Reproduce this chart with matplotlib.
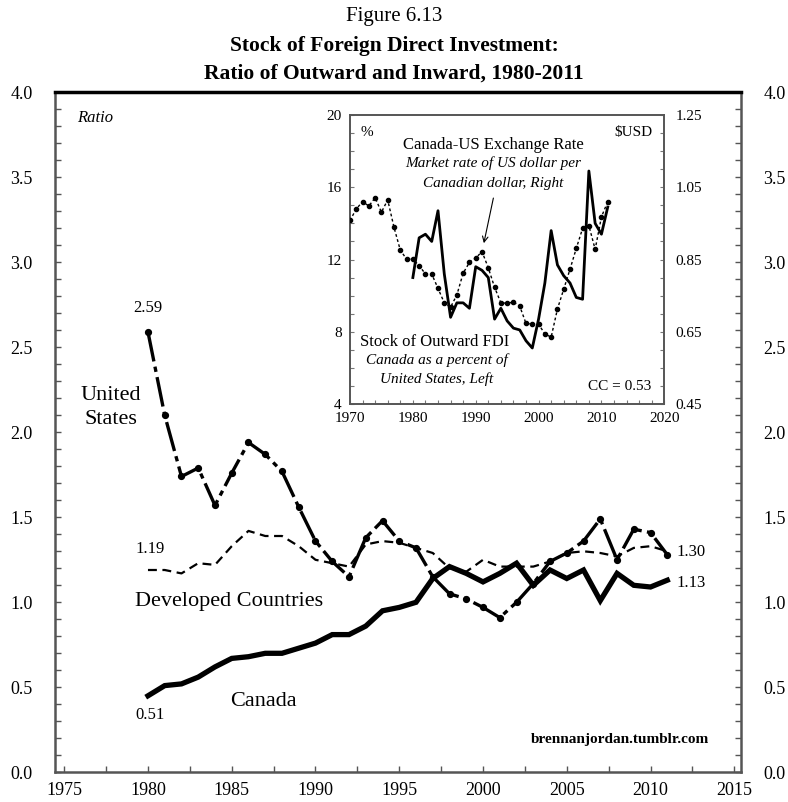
import matplotlib
matplotlib.use("Agg")
import matplotlib.pyplot as plt
from matplotlib.ticker import MultipleLocator, FixedLocator, FormatStrFormatter

plt.rcParams['font.family'] = ['Liberation Serif', 'DejaVu Serif']

# ---------------- data ----------------
years = list(range(1980, 2012))
united_states = [2.59, 2.10, 1.74, 1.79, 1.57, 1.76, 1.94, 1.87, 1.77, 1.56,
                 1.36, 1.24, 1.15, 1.38, 1.48, 1.36, 1.32, 1.15, 1.05, 1.02,
                 0.97, 0.91, 1.00, 1.11, 1.24, 1.29, 1.36, 1.49, 1.25, 1.43,
                 1.41, 1.28]
developed = [1.19, 1.19, 1.17, 1.23, 1.22, 1.33, 1.42, 1.39, 1.39, 1.33,
             1.25, 1.23, 1.21, 1.34, 1.36, 1.35, 1.32, 1.29, 1.20, 1.18,
             1.25, 1.21, 1.21, 1.21, 1.24, 1.29, 1.30, 1.29, 1.27, 1.32,
             1.33, 1.30]
canada = [0.45, 0.51, 0.52, 0.56, 0.62, 0.67, 0.68, 0.70, 0.70, 0.73,
          0.76, 0.81, 0.81, 0.86, 0.95, 0.97, 1.00, 1.14, 1.21, 1.17,
          1.12, 1.17, 1.23, 1.10, 1.19, 1.14, 1.19, 1.01, 1.17, 1.10,
          1.09, 1.13]

fx_years = list(range(1970, 2012))
exchange_rate = [0.958, 0.990, 1.010, 0.998, 1.021, 0.981, 1.015, 0.939, 0.876, 0.851,
                 0.851, 0.833, 0.810, 0.810, 0.770, 0.730, 0.718, 0.752, 0.812, 0.842,
                 0.854, 0.872, 0.827, 0.773, 0.730, 0.729, 0.732, 0.721, 0.673, 0.671,
                 0.671, 0.644, 0.635, 0.713, 0.768, 0.823, 0.881, 0.936, 0.944, 0.878,
                 0.968, 1.010]
fdi_years = list(range(1980, 2012))
outward_fdi = [11.0, 13.2, 13.4, 13.0, 14.7, 11.2, 8.8, 9.6, 9.6, 9.3,
               11.6, 11.4, 11.0, 8.7, 9.3, 8.6, 8.2, 8.1, 7.5, 7.1,
               8.7, 10.7, 13.6, 11.7, 11.1, 10.7, 9.9, 9.8, 16.9, 14.0,
               13.4, 14.9]
fx_ticks = [0.45, 0.65, 0.85, 1.05, 1.25]

W, H = 788, 802
fig = plt.figure(figsize=(W / 100, H / 100), dpi=100)

def frac_box(l, t, r, b):
    return [l / W, 1 - b / H, (r - l) / W, (b - t) / H]

# ---------------- main axes ----------------
ax = fig.add_axes(frac_box(55, 92.3, 741, 772.3))
ax.plot(years, developed, color='black', lw=1.6, ls=(0, (4, 2.5)), zorder=3)
ax.plot(years, united_states, color='black', lw=2.4, ls=(0, (9, 1.6, 1.6, 1.6)),
        marker='o', markersize=4.2, zorder=4)
ax.plot(years, canada, color='black', lw=3.8, solid_joinstyle='miter', zorder=5)

ax.set_xlim(1974.45, 2015.4)
ax.set_ylim(0, 4.0)
ax.xaxis.set_major_locator(MultipleLocator(5))
ax.xaxis.set_minor_locator(MultipleLocator(2.5))
ax.yaxis.set_major_locator(MultipleLocator(0.5))
ax.yaxis.set_minor_locator(MultipleLocator(0.1))
ax.yaxis.set_major_formatter(FormatStrFormatter('%.1f'))
ax.tick_params(which='both', direction='in', top=False, right=True,
               labelright=True, color='#555555', width=1.0)
ax.tick_params(which='major', length=4, labelsize=13, pad=7)
ax.tick_params(which='minor', length=4)
ax.tick_params(axis='y', which='major', pad=16)
for s in ['left', 'right', 'bottom']:
    ax.spines[s].set_color('#555555')
    ax.spines[s].set_linewidth(1.8)
ax.spines['top'].set_color('black')
ax.spines['top'].set_linewidth(2.5)

ax.text(1975.75, 3.847, 'Ratio', fontsize=12, style='italic', ha='left', va='center')
ax.text(1980.02, 2.73, '2.59', fontsize=12, ha='center', va='center')
ax.text(1977.8, 2.146, 'United\nStates', fontsize=16, ha='center', va='center',
        multialignment='center', linespacing=1.3)
ax.text(1980.12, 1.312, '1.19', fontsize=12, ha='center', va='center')
ax.text(1984.84, 1.004, 'Developed Countries', fontsize=16, ha='center', va='center')
ax.text(1986.87, 0.415, 'Canada', fontsize=16, ha='center', va='center')
ax.text(1980.12, 0.337, '0.51', fontsize=12, ha='center', va='center')
ax.text(2011.53, 1.298, '1.30', fontsize=12, ha='left', va='center')
ax.text(2011.53, 1.112, '1.13', fontsize=12, ha='left', va='center')
ax.text(2013.5, 0.19, 'brennanjordan.tumblr.com', fontsize=11, fontweight='bold',
        ha='right', va='center')

# ---------------- titles ----------------
fig.text(0.5, 1 - 16 / H, 'Figure 6.13', fontsize=15, ha='center', va='center')
fig.text(0.5, 1 - 46 / H, 'Stock of Foreign Direct Investment:', fontsize=15.5,
         fontweight='bold', ha='center', va='center')
fig.text(0.5, 1 - 74 / H, 'Ratio of Outward and Inward, 1980-2011', fontsize=15.5,
         fontweight='bold', ha='center', va='center')

# ---------------- inset ----------------
ins = fig.add_axes(frac_box(350, 115, 664.3, 404))
ins.plot(fdi_years, outward_fdi, color='black', lw=2.0, zorder=4)
ins.set_xlim(1970, 2020)
ins.set_ylim(4, 20)
ins.xaxis.set_major_locator(MultipleLocator(10))
ins.xaxis.set_minor_locator(MultipleLocator(2))
ins.yaxis.set_major_locator(MultipleLocator(4))
ins.yaxis.set_minor_locator(MultipleLocator(1))
ins.tick_params(which='both', direction='in', color='#777777', width=0.8,
                labelsize=11, length=3)
ins.tick_params(axis='y', which='major', pad=6)
ins.tick_params(axis='x', which='major', pad=6)
for s in ins.spines.values():
    s.set_color('#555555')
    s.set_linewidth(1.2)

ins2 = ins.twinx()
ins2.plot(fx_years, exchange_rate, color='black', lw=1.0, ls=(0, (2, 1.8)),
          marker='o', markersize=3.0, zorder=3)
ins2.set_ylim(0.45, 1.25)
ins2.yaxis.set_major_locator(FixedLocator(fx_ticks))
ins2.yaxis.set_minor_locator(MultipleLocator(0.05))
ins2.yaxis.set_major_formatter(FormatStrFormatter('%.2f'))
ins2.tick_params(which='both', direction='in', color='#777777', width=0.8,
                 labelsize=11, length=3, pad=8)
for s in ins2.spines.values():
    s.set_color('#555555')
    s.set_linewidth(1.2)

T = ins.transAxes
ins.text(0.053, 0.940, '%', fontsize=11, ha='center', va='center', transform=T)
ins.text(0.901, 0.940, '$USD', fontsize=11, ha='center', va='center', transform=T)
ins.text(0.456, 0.896, 'Canada-US Exchange Rate', fontsize=12, ha='center',
         va='center', transform=T)
ins.text(0.456, 0.833, 'Market rate of US dollar per', fontsize=11, style='italic',
         ha='center', va='center', transform=T)
ins.text(0.456, 0.764, 'Canadian dollar, Right', fontsize=11, style='italic',
         ha='center', va='center', transform=T)
ins.annotate('', xy=(0.424, 0.547), xytext=(0.458, 0.722), xycoords=T, textcoords=T,
             arrowprops=dict(arrowstyle='->', color='black', lw=0.8))
ins.text(0.270, 0.216, 'Stock of Outward FDI', fontsize=12, ha='center',
         va='center', transform=T)
ins.text(0.276, 0.152, 'Canada as a percent of', fontsize=11, style='italic',
         ha='center', va='center', transform=T)
ins.text(0.276, 0.085, 'United States, Left', fontsize=11, style='italic',
         ha='center', va='center', transform=T)
ins.text(0.859, 0.060, 'CC = 0.53', fontsize=11, ha='center', va='center', transform=T)

fig.savefig('out.png', dpi=100)
